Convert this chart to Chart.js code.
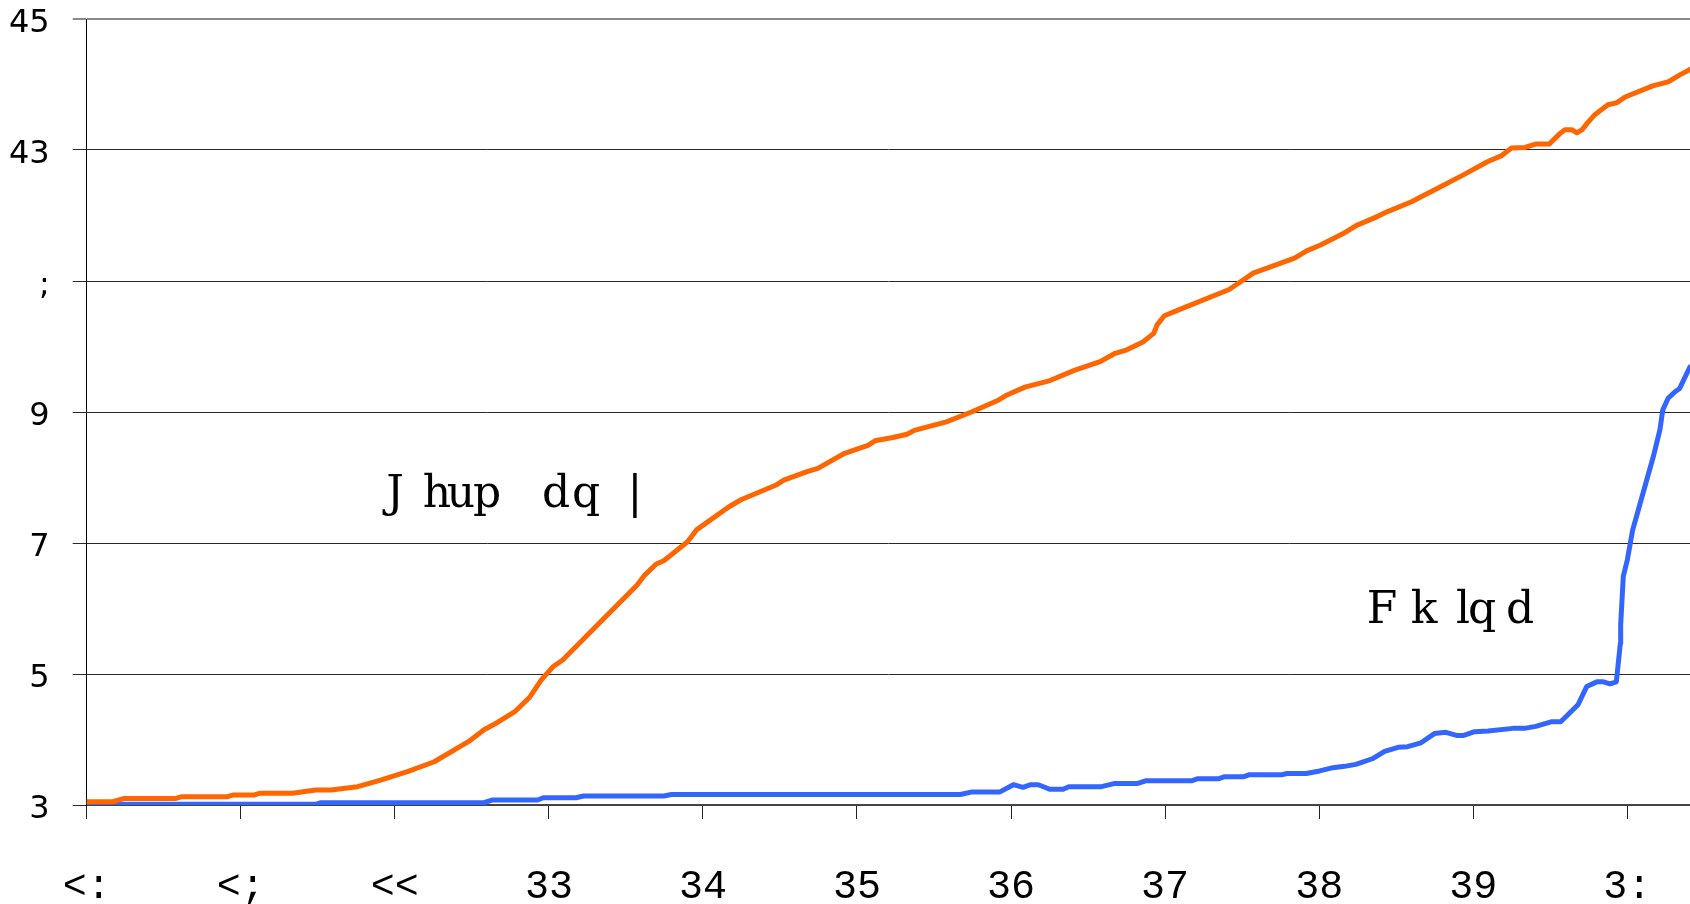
<!DOCTYPE html>
<html>
<head>
<meta charset="utf-8">
<script src="https://cdn.jsdelivr.net/npm/chart.js@4.4.1/dist/chart.umd.min.js"></script>
<style>
  html, body { margin: 0; padding: 0; background: #fff; overflow: hidden; }
</style>
</head>
<body>
<canvas id="myLineChart" width="1690" height="904"></canvas>
<script>
const YEAR0 = 1997;
const X_MAX = 10.407;

// tick labels, as they appear in the picture
const xTickLabels = ['<:', '<;', '<<', '33', '34', '35', '36', '37', '38', '39', '3:'];
const yTickLabels = ['3', '5', '7', '9', ';', '43', '45'];

const seriesNames = ['Jhupdq|', 'Fklqd'];

// years since 1997 / value
const germanyT = [0, 0.17, 0.244, 0.58, 0.617, 0.915, 0.952, 1.089, 1.126, 1.337, 1.486, 1.585, 1.759, 1.908,
  2.082, 2.256, 2.48, 2.579, 2.666, 2.777, 2.877, 2.951, 3.026, 3.088, 3.573, 3.622, 3.697, 3.746, 3.90, 3.958,
  4.167, 4.247, 4.479, 4.525, 4.676, 4.746, 4.92, 5.071, 5.117, 5.233, 5.325, 5.372, 5.58, 5.743, 5.917, 5.974,
  6.09, 6.253, 6.415, 6.578, 6.67, 6.752, 6.856, 6.926, 6.948, 6.995, 7.088, 7.416, 7.572, 7.84, 7.919, 8.009,
  8.153, 8.243, 8.355, 8.444, 8.60, 8.69, 8.757, 8.936, 9.092, 9.181, 9.248, 9.337, 9.404, 9.494, 9.562, 9.595,
  9.64, 9.673, 9.707, 9.74, 9.785, 9.874, 9.93, 9.986, 10.165, 10.265, 10.344, 10.407];
const germanyValues = [0.05, 0.05, 0.10, 0.10, 0.127, 0.127, 0.153, 0.153, 0.18, 0.18, 0.23, 0.23, 0.28, 0.38,
  0.51, 0.66, 0.97, 1.15, 1.26, 1.42, 1.65, 1.91, 2.11, 2.21, 3.36, 3.51, 3.68, 3.73, 4.02, 4.20,
  4.55, 4.66, 4.89, 4.96, 5.09, 5.14, 5.37, 5.49, 5.56, 5.61, 5.66, 5.72, 5.85, 6.00, 6.18, 6.26,
  6.38, 6.48, 6.64, 6.77, 6.89, 6.95, 7.07, 7.20, 7.33, 7.47, 7.56, 7.87, 8.12, 8.35, 8.46, 8.55,
  8.72, 8.85, 8.96, 9.06, 9.21, 9.32, 9.40, 9.62, 9.82, 9.91, 10.03, 10.04, 10.09, 10.09, 10.25, 10.31,
  10.31, 10.26, 10.31, 10.41, 10.53, 10.69, 10.72, 10.81, 10.98, 11.04, 11.15, 11.23];

const chinaT = [0, 1.486, 1.52, 2.579, 2.63, 2.927, 2.964, 3.175, 3.225, 3.746, 3.796, 5.671, 5.748, 5.928,
  6.015, 6.078, 6.127, 6.177, 6.251, 6.338, 6.375, 6.587, 6.674, 6.823, 6.873, 7.171, 7.208, 7.345, 7.382,
  7.506, 7.543, 7.754, 7.791, 7.916, 8.003, 8.09, 8.164, 8.238, 8.35, 8.425, 8.512, 8.574, 8.661, 8.748,
  8.822, 8.897, 8.934, 9.009, 9.096, 9.257, 9.332, 9.406, 9.505, 9.568, 9.68, 9.737, 9.802, 9.845, 9.888,
  9.929, 9.955, 9.957, 9.974, 10.0, 10.035, 10.071, 10.169, 10.212, 10.23, 10.265, 10.31, 10.34, 10.407];
const chinaValues = [0.01, 0.01, 0.035, 0.035, 0.076, 0.076, 0.11, 0.11, 0.137, 0.137, 0.16, 0.16, 0.20, 0.20,
  0.31, 0.27, 0.31, 0.31, 0.24, 0.24, 0.28, 0.28, 0.33, 0.33, 0.37, 0.37, 0.40, 0.40, 0.43,
  0.43, 0.46, 0.46, 0.48, 0.48, 0.52, 0.57, 0.59, 0.62, 0.71, 0.82, 0.88, 0.89, 0.95, 1.09,
  1.11, 1.06, 1.06, 1.12, 1.13, 1.17, 1.17, 1.20, 1.27, 1.27, 1.53, 1.81, 1.88, 1.88, 1.85,
  1.88, 2.47, 2.75, 3.49, 3.74, 4.20, 4.50, 5.32, 5.73, 6.03, 6.21, 6.31, 6.36, 6.69];

const toPoints = (ts, vs) => ts.map((t, i) => ({x: YEAR0 + t, y: vs[i]}));

// series names written next to the lines, anchored in data space, per-letter offsets in px
const lineNotes = [
  {text: seriesNames[0], x: YEAR0 + 1.988, y: 4.55, offsets: [2, 44, 68, 94, 163, 193, 242]},
  {text: seriesNames[1], x: YEAR0 + 8.408, y: 2.78, offsets: [0, 42, 81, 100, 138]}
];

const lineNotesPlugin = {
  id: 'lineNotes',
  afterDraw(chart) {
    const ctx = chart.ctx;
    const xs = chart.scales.x, ys = chart.scales.y;
    ctx.save();
    ctx.font = '44px "DejaVu Serif", serif';
    ctx.fillStyle = '#000';
    ctx.textAlign = 'center';
    ctx.textBaseline = 'alphabetic';
    lineNotes.forEach(n => {
      const px = xs.getPixelForValue(n.x);
      const py = ys.getPixelForValue(n.y);
      [...n.text].forEach((ch, i) => ctx.fillText(ch, px + n.offsets[i], py));
    });
    ctx.restore();
  }
};

const lineData = {
  datasets: [
    {
      label: seriesNames[0],
      data: toPoints(germanyT, germanyValues),
      borderColor: '#ff6600',
    },
    {
      label: seriesNames[1],
      data: toPoints(chinaT, chinaValues),
      borderColor: '#3366ff',
    }
  ]
};

const lineConfig = {
  type: 'line',
  data: lineData,
  options: {
    responsive: false,
    animation: false,
    layout: {padding: {top: 19, left: 0, right: 0, bottom: 0}},
    elements: {
      line: {borderWidth: 5, tension: 0, borderJoinStyle: 'round', borderCapStyle: 'round'},
      point: {radius: 0}
    },
    plugins: {
      legend: {display: false},
      tooltip: {enabled: false}
    },
    scales: {
      x: {
        type: 'linear',
        min: YEAR0,
        max: YEAR0 + X_MAX,
        z: 1,
        afterFit: s => { s.height = 99; s.paddingLeft = 0; s.paddingRight = 0; },
        grid: {drawOnChartArea: false, tickLength: 14, color: '#222'},
        border: {color: '#444', width: 2},
        ticks: {
          stepSize: 1,
          includeBounds: false,
          autoSkip: false,
          maxRotation: 0,
          padding: 44,
          color: '#000',
          font: {family: '"Liberation Mono", monospace', size: 40},
          callback: v => xTickLabels[Math.round(v - YEAR0)]
        }
      },
      y: {
        min: 0,
        max: 12,
        afterFit: s => { s.width = 86.7; s.paddingTop = 0; s.paddingBottom = 0; },
        grid: {
          tickLength: 14,
          color: c => c.index === 6 ? '#8a8a8a' : '#2a2a2a',
          lineWidth: c => c.index === 6 ? 2 : 1
        },
        border: {color: '#000', width: 1},
        ticks: {
          stepSize: 2,
          padding: 23,
          labelOffset: 5,
          color: '#000',
          font: {family: '"DejaVu Sans", sans-serif', size: 32},
          callback: v => yTickLabels[v / 2]
        }
      }
    }
  },
  plugins: [lineNotesPlugin]
};

const myLineChart = new Chart(
  document.getElementById('myLineChart'),
  lineConfig
);
</script>
</body>
</html>
